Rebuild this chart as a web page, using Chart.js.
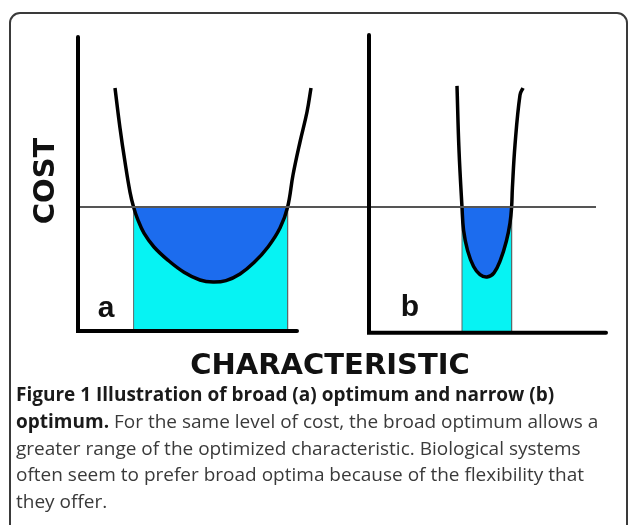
<!DOCTYPE html>
<html>
<head>
<meta charset="utf-8">
<script src="https://cdn.jsdelivr.net/npm/chart.js@4/dist/chart.umd.min.js"></script>
<style>
  html, body { margin: 0; padding: 0; background: #fff; }
  body { width: 629px; height: 525px; position: relative; overflow: hidden; }
  #frame {
    position: absolute; left: 9px; top: 12px; width: 615px; height: 600px;
    border: 2px solid #3a3a3a; border-radius: 11px;
  }
  #plot { position: absolute; left: 0; top: 0; }
  #caption {
    position: absolute; left: 16px; top: 381px;
    font-family: "Open Sans", sans-serif; font-size: 19px; line-height: 26.8px;
    color: #3a3a3a; white-space: nowrap;
  }
  #caption b { color: #1a1a1a; }
</style>
</head>
<body>
<div id="frame"></div>
<canvas id="plot" width="629" height="385"></canvas>
<div id="caption">
  <b>Figure 1 Illustration of broad (a) optimum and narrow (b)</b><br>
  <b>optimum.</b> For the same level of cost, the broad optimum allows a<br>
  greater range of the optimized characteristic. Biological systems<br>
  often seem to prefer broad optima because of the flexibility that<br>
  they offer.
</div>
<script>
  /* cost level shared by both panels */
  var COST_LEVEL = 41.3;

  /* panel frames (axis lines) */
  var axisAX = [0, 0, 54.75];
  var axisAY = [98, 0, 0];
  var axisBX = [72.75, 72.75, 132];
  var axisBY = [98.7, -0.6, -0.6];

  /* horizontal cost line */
  var levelX = [0.5, 129.5];

  /* broad optimum curve (a) */
  var curveAX = [9.25, 10.5, 11.75, 13, 13.9, 14.9, 16.5, 19, 22.5, 26.5, 30.5, 33.75, 37, 40.5, 44, 47.5, 50.5, 52.4, 53.75, 55.5, 57.25, 58.25];
  var curveAY = [81, 67.7, 56.3, 46.3, 41.3, 37.3, 32.6, 28, 23.6, 19.6, 17, 16.3, 16.8, 19, 22.8, 28, 34.3, 41.3, 52, 63, 73, 81];

  /* narrow optimum curve (b) */
  var curveBX = [94.75, 95.25, 96, 96.4, 97.4, 98.9, 100.5, 102.25, 104, 105.6, 107.1, 108, 108.4, 108.6, 109.25, 110.5, 111.25];
  var curveBY = [81.7, 60.3, 41.3, 33.5, 26.8, 21.5, 18.8, 18, 19.4, 23.6, 30, 36, 41.3, 47.7, 62, 78.7, 81];

  /* range of characteristic allowed at that cost */
  var rangeA = [13.9, 52.4];
  var rangeB = [96, 108.4];

  /* panel labels */
  var panelLabels = ['a', 'b'];
  var labelX = [7, 83];
  var labelY = [7.3, 7.8];

  var blue = '#1c6cee';
  var cyan = '#06f3f3';

  function pts(xs, ys) {
    return xs.map(function (x, i) { return { x: x, y: ys[i] }; });
  }
  function rect(r, base) {
    return pts([r[0], r[0], r[1], r[1]], [base, COST_LEVEL, COST_LEVEL, base]);
  }

  var panelLabelPlugin = {
    id: 'panelLabels',
    afterDatasetsDraw: function (chart) {
      var ctx = chart.ctx, xs = chart.scales.x, ys = chart.scales.y;
      ctx.save();
      ctx.fillStyle = '#111';
      ctx.font = 'bold 30px "Liberation Sans", Arial, sans-serif';
      ctx.textAlign = 'center';
      ctx.textBaseline = 'middle';
      panelLabels.forEach(function (t, i) {
        ctx.fillText(t, xs.getPixelForValue(labelX[i]), ys.getPixelForValue(labelY[i]));
      });
      ctx.restore();
    }
  };

  var lineBase = { showLine: true, pointRadius: 0, fill: false, tension: 0, clip: 10 };

  new Chart(document.getElementById('plot'), {
    type: 'scatter',
    data: {
      datasets: [
        Object.assign({}, lineBase, { label: 'axes a', data: pts(axisAX, axisAY), borderColor: '#000', borderWidth: 4, borderCapStyle: 'round', borderJoinStyle: 'miter' }),
        Object.assign({}, lineBase, { label: 'axes b', data: pts(axisBX, axisBY), borderColor: '#000', borderWidth: 4, borderCapStyle: 'round', borderJoinStyle: 'miter' }),
        Object.assign({}, lineBase, { label: 'cost', data: pts(levelX, [COST_LEVEL, COST_LEVEL]), borderColor: '#555', borderWidth: 2 }),
        Object.assign({}, lineBase, {
          label: 'broad', data: pts(curveAX, curveAY), borderColor: '#000', borderWidth: 3.5,
          tension: 0.4,
          fill: { target: { value: COST_LEVEL }, above: 'rgba(0,0,0,0)', below: blue }
        }),
        Object.assign({}, lineBase, {
          label: 'narrow', data: pts(curveBX, curveBY), borderColor: '#000', borderWidth: 3.5,
          tension: 0.4,
          fill: { target: { value: COST_LEVEL }, above: 'rgba(0,0,0,0)', below: blue }
        }),
        Object.assign({}, lineBase, { label: 'range a', data: rect(rangeA, 0), borderColor: '#5a6a6a', borderWidth: 1, fill: 'origin', backgroundColor: cyan }),
        Object.assign({}, lineBase, { label: 'range b', data: rect(rangeB, -0.6), borderColor: '#5a6a6a', borderWidth: 1, fill: 'origin', backgroundColor: cyan })
      ]
    },
    options: {
      responsive: false,
      animation: false,
      layout: { padding: { top: 31, right: 23, bottom: 0, left: 0 } },
      plugins: { legend: { display: false }, tooltip: { enabled: false } },
      scales: {
        x: {
          type: 'linear', min: -6, max: 132,
          grid: { display: false }, border: { display: false }, ticks: { display: false },
          title: {
            display: true, text: 'CHARACTERISTIC', color: '#111',
            font: { family: 'DejaVu Sans', size: 29, weight: 'bold', lineHeight: 1.2 },
            padding: { top: 0, bottom: 1.6 }
          },
          afterFit: function (s) { s.height = 54; }
        },
        y: {
          type: 'linear', min: 0, max: 100,
          grid: { display: false }, border: { display: false }, ticks: { display: false },
          title: {
            display: true, text: 'COST', color: '#111',
            font: { family: 'DejaVu Sans', size: 29, weight: 'bold', lineHeight: 1.2 },
            padding: { top: 28.6, bottom: 0 }
          },
          afterFit: function (s) { s.width = 54; }
        }
      }
    },
    plugins: [panelLabelPlugin]
  });
</script>
</body>
</html>
